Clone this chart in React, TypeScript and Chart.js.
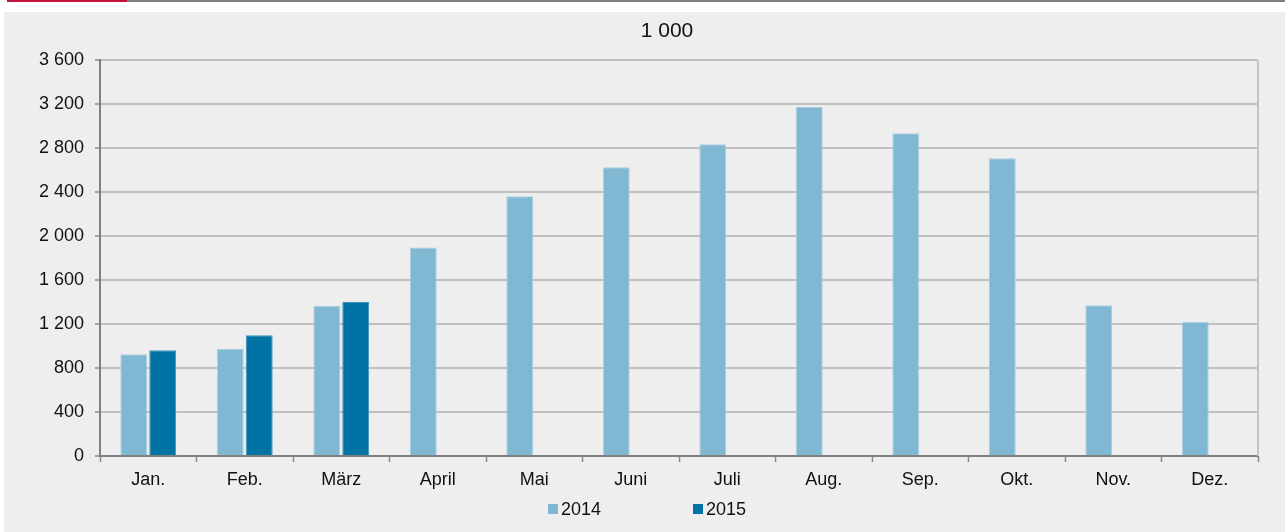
import React, { useEffect, useRef } from "react";
import { Chart, registerables } from "chart.js";

Chart.register(...registerables);

const categories = ["Jan.", "Feb.", "März", "April", "Mai", "Juni", "Juli", "Aug.", "Sep.", "Okt.", "Nov.", "Dez."];
const series2014 = [925, 975, 1365, 1895, 2362, 2625, 2835, 3175, 2935, 2707, 1370, 1218];
const series2015: (number | null)[] = [962, 1098, 1400, null, null, null, null, null, null, null, null, null];
const seriesLabels = ["2014", "2015"];
const chartTitle = "1 000";
const yMin = 0;
const yMax = 3600;
const yStep = 400;

const COL_2014 = "#80b8d4";
const COL_2015 = "#0072a4";
const FONT = "'Liberation Sans', Arial, sans-serif";

function fmt(v: number): string {
  const s = Math.round(v).toString();
  return s.replace(/\B(?=(\d{3})+(?!\d))/g, " ");
}

const decorPlugin = {
  id: "decor",
  beforeDraw(chart: any) {
    const ctx = chart.ctx;
    ctx.save();
    ctx.fillStyle = "#ffffff";
    ctx.fillRect(0, 0, chart.width, chart.height);
    ctx.fillStyle = "#edeeed";
    ctx.fillRect(4, 12, chart.width - 4, chart.height - 12);
    ctx.fillStyle = "#c0143c";
    ctx.fillRect(7, 0, 120, 2);
    ctx.fillStyle = "#808080";
    ctx.fillRect(127, 0, chart.width - 127, 2);
    ctx.restore();
  },
  afterDatasetsDraw(chart: any) {
    const ctx = chart.ctx;
    const a = chart.chartArea;
    ctx.save();
    ctx.strokeStyle = "#c4c4c4";
    ctx.lineWidth = 2;
    ctx.beginPath();
    ctx.moveTo(a.right, a.top);
    ctx.lineTo(a.right, a.bottom);
    ctx.stroke();
    ctx.fillStyle = "#111111";
    ctx.font = `21px ${FONT}`;
    ctx.textAlign = "center";
    ctx.textBaseline = "middle";
    ctx.fillText(chartTitle, 667, 31);
    ctx.font = `18px ${FONT}`;
    ctx.textAlign = "left";
    const items = [
      { x: 548, color: COL_2014, label: seriesLabels[0] },
      { x: 693, color: COL_2015, label: seriesLabels[1] },
    ];
    for (const it of items) {
      ctx.fillStyle = it.color;
      ctx.fillRect(it.x, 504, 10, 10);
      ctx.fillStyle = "#111111";
      ctx.fillText(it.label, it.x + 13, 510);
    }
    ctx.restore();
  },
};

export default function App() {
  const ref = useRef<HTMLCanvasElement | null>(null);
  useEffect(() => {
    if (!ref.current) return;
    const chart = new Chart(ref.current, {
      type: "bar",
      data: {
        labels: categories,
        datasets: [
          {
            label: seriesLabels[0],
            data: series2014,
            backgroundColor: COL_2014,
            borderColor: "#a9d0e3",
            borderWidth: 1,
            categoryPercentage: 0.6,
            barPercentage: 0.93,
          },
          {
            label: seriesLabels[1],
            data: series2015,
            backgroundColor: COL_2015,
            borderColor: "#3d93bd",
            borderWidth: 1,
            categoryPercentage: 0.6,
            barPercentage: 0.93,
          },
        ],
      },
      options: {
        responsive: false,
        animation: false,
        events: [],
        layout: { padding: { top: 60, right: 27, left: 0, bottom: 0 } },
        plugins: {
          legend: { display: false },
          title: { display: false },
          tooltip: { enabled: false },
        },
        scales: {
          x: {
            offset: true,
            grid: {
              offset: true,
              drawOnChartArea: false,
              drawTicks: true,
              tickLength: 6,
              tickColor: "#8a8a8a",
              tickWidth: 1.5,
            },
            border: { color: "#808080", width: 2 },
            ticks: {
              color: "#111111",
              font: { family: FONT, size: 18 },
              padding: 7,
              maxRotation: 0,
              autoSkip: false,
            },
            afterFit(scale: any) {
              scale.height = 76;
            },
          },
          y: {
            min: yMin,
            max: yMax,
            grid: {
              color: "#c0c0c0",
              lineWidth: 2,
              drawTicks: true,
              tickLength: 5,
              tickColor: "#8a8a8a",
              tickWidth: 1.5,
            },
            border: { color: "#808080", width: 2 },
            ticks: {
              stepSize: yStep,
              color: "#111111",
              font: { family: FONT, size: 18 },
              padding: 11,
              callback: (v: any) => fmt(Number(v)),
            },
            afterFit(scale: any) {
              scale.width = 100;
            },
          },
        },
      },
      plugins: [decorPlugin],
    });
    return () => chart.destroy();
  }, []);
  return (
    <div style={{ position: "fixed", left: 0, top: 0, width: 1285, height: 532 }}>
      <canvas ref={ref} width={1285} height={532} style={{ width: 1285, height: 532, display: "block" }} />
    </div>
  );
}
